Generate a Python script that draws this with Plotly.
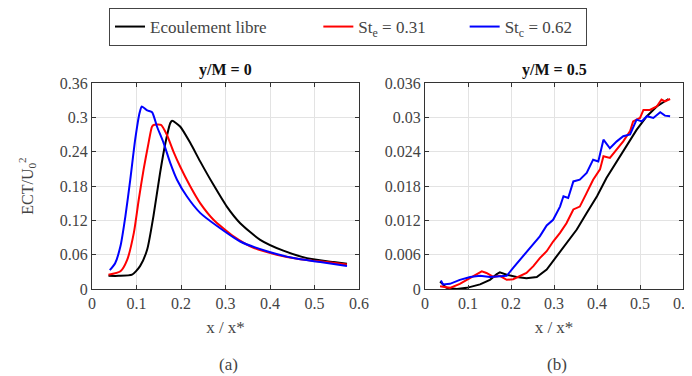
import plotly.graph_objects as go

# ---- data: panel (a) y/M = 0 ----
a_black_x = [0.037, 0.06, 0.09, 0.108, 0.124, 0.138, 0.153, 0.165, 0.176, 0.18, 0.198, 0.221, 0.243, 0.273, 0.303, 0.333, 0.378, 0.43, 0.483, 0.543, 0.573]
a_black_y = [0.023, 0.023, 0.025, 0.04, 0.069, 0.127, 0.203, 0.255, 0.29, 0.294, 0.284, 0.255, 0.223, 0.182, 0.144, 0.115, 0.086, 0.067, 0.054, 0.047, 0.044]
a_red_x = [0.037, 0.064, 0.079, 0.094, 0.105, 0.116, 0.127, 0.135, 0.14, 0.155, 0.168, 0.183, 0.198, 0.221, 0.243, 0.273, 0.318, 0.363, 0.415, 0.468, 0.528, 0.573]
a_red_y = [0.025, 0.031, 0.051, 0.098, 0.156, 0.209, 0.255, 0.284, 0.287, 0.287, 0.27, 0.24, 0.214, 0.179, 0.15, 0.121, 0.092, 0.072, 0.06, 0.052, 0.047, 0.043]
a_blue_x = [0.04, 0.052, 0.064, 0.075, 0.086, 0.097, 0.107, 0.112, 0.124, 0.135, 0.146, 0.161, 0.176, 0.191, 0.213, 0.243, 0.281, 0.333, 0.393, 0.453, 0.513, 0.573]
a_blue_y = [0.033, 0.045, 0.075, 0.127, 0.191, 0.261, 0.308, 0.319, 0.312, 0.309, 0.284, 0.255, 0.22, 0.191, 0.162, 0.133, 0.11, 0.083, 0.066, 0.054, 0.047, 0.04]

# ---- data: panel (b) y/M = 0.5 ----
b_black_x = [0.035, 0.05, 0.074, 0.097, 0.128, 0.151, 0.167, 0.174, 0.19, 0.213, 0.236, 0.26, 0.283, 0.306, 0.329, 0.353, 0.376, 0.4, 0.422, 0.446, 0.469, 0.492, 0.516, 0.539, 0.566]
b_black_y = [0.0013, 0.0002, 0.0, 0.0002, 0.0008, 0.0016, 0.0026, 0.0029, 0.0025, 0.0021, 0.0019, 0.0021, 0.0034, 0.0057, 0.008, 0.0104, 0.0133, 0.0162, 0.0194, 0.0223, 0.0252, 0.0278, 0.0302, 0.0319, 0.0332]
b_red_x = [0.035, 0.058, 0.081, 0.105, 0.12, 0.132, 0.143, 0.159, 0.174, 0.19, 0.205, 0.221, 0.236, 0.252, 0.267, 0.283, 0.298, 0.314, 0.329, 0.345, 0.36, 0.376, 0.391, 0.407, 0.415, 0.43, 0.446, 0.461, 0.477, 0.484, 0.5, 0.508, 0.523, 0.539, 0.55, 0.558, 0.57]
b_red_y = [0.0005, 0.0002, 0.0009, 0.0019, 0.0025, 0.0031, 0.0028, 0.0021, 0.0023, 0.0016, 0.0017, 0.0022, 0.0028, 0.004, 0.0054, 0.0066, 0.0083, 0.0098, 0.0115, 0.0139, 0.0144, 0.0168, 0.0191, 0.0209, 0.0232, 0.0229, 0.0243, 0.0258, 0.0276, 0.0293, 0.0299, 0.0313, 0.0313, 0.0319, 0.0331, 0.0328, 0.0332]
b_blue_x = [0.037, 0.042, 0.058, 0.081, 0.105, 0.128, 0.151, 0.174, 0.19, 0.205, 0.221, 0.236, 0.252, 0.267, 0.283, 0.298, 0.314, 0.322, 0.333, 0.345, 0.36, 0.376, 0.391, 0.403, 0.415, 0.43, 0.446, 0.461, 0.477, 0.492, 0.504, 0.516, 0.531, 0.547, 0.558, 0.57]
b_blue_y = [0.0015, 0.0008, 0.0009, 0.0016, 0.0021, 0.0023, 0.0021, 0.0022, 0.0023, 0.0037, 0.0051, 0.0063, 0.0077, 0.0092, 0.0111, 0.0121, 0.0144, 0.0162, 0.0159, 0.0188, 0.0191, 0.0203, 0.0226, 0.0223, 0.0261, 0.0246, 0.0258, 0.0267, 0.027, 0.0296, 0.0293, 0.0302, 0.0299, 0.0309, 0.0303, 0.0302]

series_names = ["Ecoulement libre", "St<sub>e</sub> = 0.31", "St<sub>c</sub> = 0.62"]
series_colors = ["#000000", "#ff0000", "#0000ff"]

x_ticks = [0, 0.1, 0.2, 0.3, 0.4, 0.5, 0.6]
x_ticklabels = ["0", "0.1", "0.2", "0.3", "0.4", "0.5", "0.6"]
a_yticks = [0, 0.06, 0.12, 0.18, 0.24, 0.3, 0.36]
a_yticklabels = ["0", "0.06", "0.12", "0.18", "0.24", "0.3", "0.36"]
b_yticks = [0, 0.006, 0.012, 0.018, 0.024, 0.03, 0.036]
b_yticklabels = ["0", "0.006", "0.012", "0.018", "0.024", "0.03", "0.036"]

FONT = "Liberation Serif"
# extra spacing after legend entries (the reference legend spreads its items)
legend_pad = ["&nbsp;" * 11, "&nbsp;" * 8, "&nbsp;" * 2]

# page body has an 8px margin: figure is 684x368 so the page is 692x376
W, H, OFF = 684, 368, 8


def px_x(p):
    return (p - OFF) / W


def px_y(p):
    return 1 - (p - OFF) / H


fig = go.Figure()
a_data = [(a_black_x, a_black_y), (a_red_x, a_red_y), (a_blue_x, a_blue_y)]
b_data = [(b_black_x, b_black_y), (b_red_x, b_red_y), (b_blue_x, b_blue_y)]
for i, (xs, ys) in enumerate(a_data):
    fig.add_trace(go.Scatter(x=xs, y=ys, mode="lines", name=series_names[i] + legend_pad[i],
                             line=dict(color=series_colors[i], width=2, shape="spline", smoothing=0.6),
                             xaxis="x", yaxis="y", showlegend=True))
for i, (xs, ys) in enumerate(b_data):
    fig.add_trace(go.Scatter(x=xs, y=ys, mode="lines", name=series_names[i],
                             line=dict(color=series_colors[i], width=2),
                             xaxis="x2", yaxis="y2", showlegend=False))

ax_common = dict(showline=True, linecolor="#333333", linewidth=1, mirror="allticks",
                 ticks="inside", ticklen=4, tickcolor="#333333",
                 showgrid=True, gridcolor="#e3e3e3", gridwidth=1, zeroline=False,
                 tickfont=dict(family=FONT, size=16))

ydom = [px_y(289), px_y(83)]
fig.update_layout(
    template="none",
    width=W, height=H,
    margin=dict(l=0, r=0, t=0, b=0, autoexpand=False),
    paper_bgcolor="white", plot_bgcolor="white",
    font=dict(family=FONT, size=16),
    xaxis=dict(domain=[px_x(92), px_x(359)], range=[0, 0.6], tickvals=x_ticks, ticktext=x_ticklabels,
               anchor="y", ticklabeloverflow="allow",
               title=dict(text="x / x*", font=dict(family=FONT, size=17), standoff=9), **ax_common),
    yaxis=dict(domain=ydom, range=[0, 0.36], tickvals=a_yticks, ticktext=a_yticklabels, anchor="x",
               title=dict(text="ECT/U<sub>0</sub><sup>2</sup>", font=dict(family=FONT, size=16), standoff=22), **ax_common),
    xaxis2=dict(domain=[px_x(425), px_x(683)], range=[0, 0.6], tickvals=x_ticks, ticktext=x_ticklabels,
                anchor="y2", ticklabeloverflow="allow",
                title=dict(text="x / x*", font=dict(family=FONT, size=17), standoff=9), **ax_common),
    yaxis2=dict(domain=ydom, range=[0, 0.036], tickvals=b_yticks, ticktext=b_yticklabels, anchor="x2", **ax_common),
    legend=dict(orientation="h", x=px_x(109), y=px_y(8), xanchor="left", yanchor="top",
                bordercolor="#444444", borderwidth=1, bgcolor="white",
                font=dict(family=FONT, size=17), itemwidth=30),
    showlegend=True,
    annotations=[
        dict(text="<b>y/M = 0</b>", x=px_x((92 + 359) / 2), y=px_y(70), xref="paper", yref="paper",
             showarrow=False, font=dict(family=FONT, size=16, color="#111111"), xanchor="center", yanchor="middle"),
        dict(text="<b>y/M = 0.5</b>", x=px_x((425 + 683) / 2), y=px_y(70), xref="paper", yref="paper",
             showarrow=False, font=dict(family=FONT, size=16, color="#111111"), xanchor="center", yanchor="middle"),
        dict(text="(a)", x=px_x((92 + 359) / 2 + 3), y=px_y(364), xref="paper", yref="paper",
             showarrow=False, font=dict(family=FONT, size=17), xanchor="center", yanchor="middle"),
        dict(text="(b)", x=px_x((425 + 683) / 2 + 3), y=px_y(364), xref="paper", yref="paper",
             showarrow=False, font=dict(family=FONT, size=17), xanchor="center", yanchor="middle"),
    ],
)

fig.write_html("out.html")
